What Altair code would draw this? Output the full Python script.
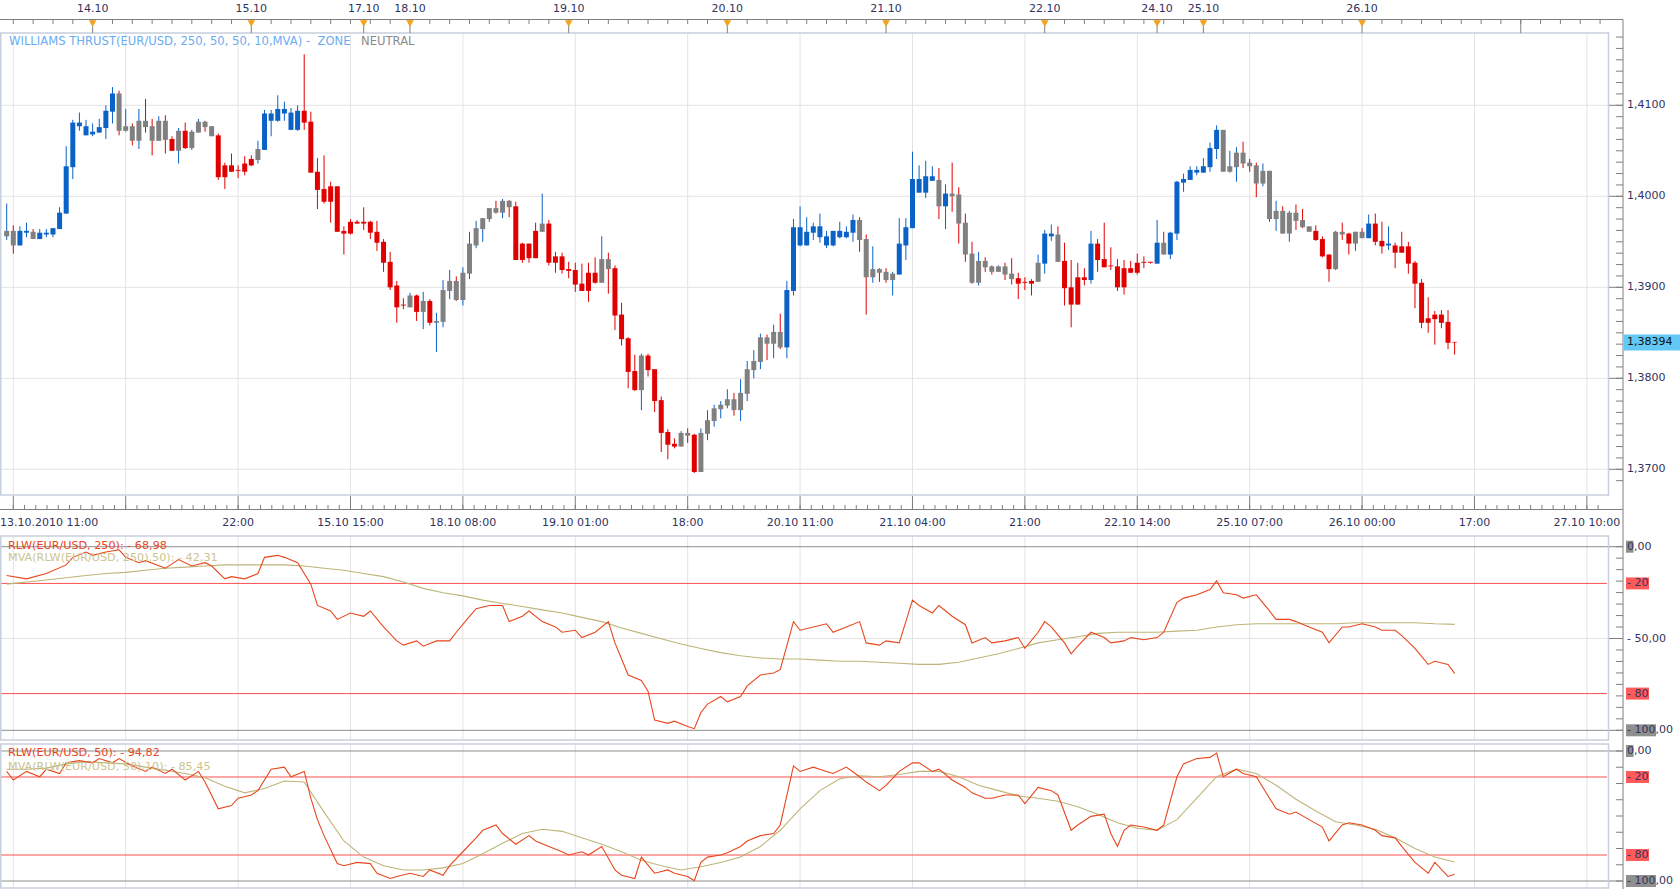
import altair as alt
import numpy as np
import pandas as pd

# ---------------- data: EUR/USD hourly candles (prices in pips = price x 10000) ----------------
high_pips = [
13992,13968,13967,13971,13964,13964,13964,13965,13988,14055,
14084,14092,14084,14080,14085,14100,14120,14116,14096,14080,
14096,14107,14085,14088,14089,14066,14075,14081,14073,14085,
14083,14077,14069,14037,14047,14034,14044,14045,14061,14095,
14095,14111,14104,14097,14100,14156,14093,14042,14045,14016,
14011,13967,13975,13974,13988,13973,13973,13953,13939,13907,
13888,13894,13892,13895,13887,13872,13908,13919,13912,13922,
13961,13973,13976,13987,13995,13997,13996,13994,13949,13948,
13971,14003,13974,13939,13938,13928,13927,13926,13927,13933,
13956,13938,13924,13883,13845,13826,13827,13827,13810,13780,
13744,13734,13742,13745,13739,13745,13765,13771,13775,13788,
13784,13799,13819,13831,13849,13848,13859,13871,13907,13975,
13989,13977,13971,13981,13962,13962,13972,13967,13980,13977,
13958,13945,13921,13921,13917,13976,13976,14049,14034,14039,
14033,14031,14013,14037,14010,13981,13950,13939,13933,13924,
13924,13927,13932,13916,13911,13909,13936,13963,13969,13967,
13949,13930,13927,13921,13962,13953,13971,13944,13931,13930,
13929,13937,13934,13928,13974,13961,13961,14017,14025,14033,
14033,14042,14059,14078,14073,14050,14054,14060,14041,14037,
14036,14028,13995,13989,13984,13991,13986,13967,13968,13956,
13936,13962,13971,13960,13961,13965,13980,13981,13972,13967,
13949,13961,13950,13929,13909,13889,13874,13875,13875,13840]
body_hi_pips = [
13962,13962,13962,13962,13961,13960,13960,13965,13982,14033,
14081,14081,14077,14071,14076,14094,14113,14113,14077,14077,
14083,14083,14077,14083,14083,14063,14072,14072,14071,14082,
14082,14077,14067,14034,14034,14029,14036,14041,14052,14091,
14091,14096,14096,14092,14094,14094,14082,14027,14008,14011,
14011,13962,13972,13972,13972,13972,13961,13950,13928,13902,
13881,13891,13891,13885,13885,13863,13897,13907,13907,13916,
13948,13965,13976,13987,13987,13995,13995,13989,13948,13948,
13962,13970,13970,13934,13934,13920,13919,13904,13916,13916,
13931,13931,13921,13870,13844,13808,13825,13825,13810,13776,
13741,13728,13740,13740,13738,13740,13754,13767,13771,13777,
13777,13784,13810,13819,13845,13845,13851,13851,13897,13966,
13966,13961,13967,13967,13956,13962,13962,13961,13974,13974,
13953,13920,13920,13917,13915,13948,13966,14019,14019,14022,
14022,14018,14003,14003,14002,13971,13937,13929,13929,13923,
13923,13923,13915,13910,13906,13907,13927,13959,13959,13958,
13929,13900,13911,13911,13948,13948,13931,13924,13923,13921,
13921,13927,13928,13928,13949,13949,13960,14016,14019,14029,
14029,14033,14053,14073,14073,14033,14048,14048,14037,14034,
14028,14028,13984,13984,13982,13982,13974,13967,13962,13953,
13936,13961,13961,13959,13961,13961,13970,13970,13951,13948,
13946,13945,13945,13927,13905,13866,13870,13870,13862,13840]
body_lo_pips = [
13956,13946,13946,13960,13953,13953,13958,13958,13964,13981,
14032,14077,14067,14068,14070,14075,14093,14072,14072,14061,
14061,14076,14061,14061,14062,14050,14050,14053,14053,14070,
14076,14066,14021,14021,14027,14028,14027,14034,14040,14051,
14083,14083,14091,14073,14073,14081,14026,14007,13994,13994,
13961,13959,13959,13970,13970,13960,13949,13927,13900,13878,
13880,13878,13873,13873,13861,13861,13862,13896,13886,13886,
13915,13946,13964,13975,13982,13982,13988,13930,13930,13932,
13932,13961,13927,13927,13919,13918,13903,13896,13896,13905,
13905,13920,13869,13843,13807,13787,13787,13809,13775,13740,
13727,13725,13725,13737,13697,13697,13739,13753,13766,13770,
13765,13765,13783,13809,13818,13838,13838,13834,13834,13896,
13946,13946,13960,13955,13946,13946,13955,13955,13960,13952,
13911,13911,13916,13908,13908,13914,13946,13965,14004,14004,
14017,13989,13989,14000,13970,13936,13905,13905,13922,13917,
13917,13914,13909,13904,13905,13904,13906,13926,13956,13928,
13899,13881,13881,13908,13908,13930,13922,13923,13900,13900,
13916,13916,13927,13927,13926,13936,13936,13959,14015,14018,
14026,14026,14032,14052,14027,14027,14032,14036,14033,14014,
14014,13975,13975,13959,13959,13973,13966,13961,13952,13934,
13920,13920,13958,13948,13948,13954,13954,13950,13945,13946,
13938,13938,13926,13904,13861,13861,13865,13861,13839,13839.4]
low_pips = [
13952,13937,13946,13955,13953,13953,13955,13955,13964,13981,
14019,14072,14067,14066,14070,14063,14080,14067,14071,14056,
14052,14070,14045,14061,14047,14050,14036,14052,14051,14070,
14071,14066,14018,14008,14027,14020,14023,14033,14036,14051,
14066,14082,14083,14073,14072,14073,14026,13986,13992,13971,
13961,13936,13958,13970,13963,13953,13940,13917,13897,13861,
13876,13878,13863,13854,13858,13829,13856,13887,13885,13880,
13909,13943,13950,13972,13981,13976,13977,13930,13927,13927,
13932,13961,13924,13916,13915,13910,13895,13896,13884,13904,
13905,13893,13853,13836,13789,13786,13765,13802,13763,13719,
13711,13723,13725,13729,13696,13697,13732,13747,13756,13767,
13759,13753,13775,13800,13810,13820,13822,13832,13822,13891,
13945,13946,13952,13949,13943,13945,13954,13954,13950,13939,
13870,13905,13906,13905,13891,13914,13930,13965,14004,13998,
14017,13975,13964,13983,13948,13928,13904,13902,13917,13914,
13917,13908,13903,13887,13897,13891,13906,13915,13951,13928,
13880,13856,13881,13902,13904,13917,13922,13919,13896,13892,
13916,13914,13921,13926,13926,13936,13931,13952,14005,14018,
14023,14026,14027,14041,14027,14026,14016,14031,14027,13999,
14011,13972,13962,13959,13950,13963,13965,13961,13951,13933,
13906,13919,13952,13936,13940,13954,13954,13946,13937,13941,
13921,13938,13915,13877,13855,13850,13837,13855,13832,13826]
# Williams thrust zone of each candle body / wick: b = up, r = down, g = neutral
body_zone = ("ggbbgbbbbb" "bbbbbbbggg" "gggggrgrgg" "ggrrrrrrgb" "bbbbbrrrrr" "rrrrrrrrrr"
             "rgrgrggggg" "gggggggrrr" "rgrrrrrrrr" "ggrrrrgrrr" "rrggrggggg" "ggggggggbb"
             "bbbbbbbbbg" "gggggbbbbb" "bgbggggggg" "gggrrrgbbg" "rrrrbrrrrr" "rrrrbgbbbb"
             "bbbbgggggg" "ggggggggrr" "rggrggbrrb" "rrrrrrrrrr")
wick_zone = ("brbbrbbbbb" "bbbbbbbrbr" "brrbrrbrbb" "rgrrrrrrbb" "bbbbbrrrrr" "rrrrrrrrrr"
             "rbrbrbbbrb" "bbbbrbrrrr" "rbrrrrrrrr" "brrrrrbrrr" "rrbrrbbbbb" "rbbbbrbrbb"
             "bbbbbbbbbr" "rbrrbbbbbb" "brbrrrrbrr" "brrrrrbbbr" "rrrrbrrrrr" "rrrrbrbbbb"
             "bbbbgbbrrr" "brbrbrrgrr" "rbrrbrbrrb" "rrrrrrrrrr")

# ---------------- indicators ----------------
rlw250_bar = [0,3,6,9,10,12,13,15,17,18,20,21,24,26,28,30,31,33,34,36,38,39,41,42,44,46,47,49,50,52,
              54,55,57,59,60,62,63,65,67,68,70,71,73,75,76,78,79,81,83,84,86,87,89,91,92,94,96,97,98,100,
              101,103,104,105,106,108,109,111,112,114,116,117,119,120,122,124,125,127,129,130,
              132,133,135,137,138,140,141,143,145,146,148,149,151,153,154,156,157,158,160,161,
              162,164,166,167,169,170,172,174,175,177,178,180,182,183,184,186,187,189,191,192,
              194,195,197,199,200,202,203,205,207,208,210,211,213,215,216,218,219]
rlw250 = [-15.7,-17.5,-14.6,-9.9,-5.8,-2.9,-4.7,-2.9,-1.7,-5.8,-8.7,-7.6,-11.7,-7,-10.5,-8.7,-10.5,-17.5,-16.3,-17.5,
          -14.6,-5.8,-4.7,-5.8,-8.7,-20.4,-32,-35,-39.6,-36.1,-37.9,-35,-43.7,-51.3,-53.6,-51.3,-54.2,-51.3,-51.3,-46.6,
          -37.9,-33.8,-32,-32,-40.8,-37.9,-35,-40.8,-43.7,-46.6,-45.5,-49.5,-46.6,-40.8,-52.4,-69.9,-72.8,-78.7,-94.4,-96.2,
          -95,-97.9,-99.1,-90.3,-85.7,-81.6,-84.5,-81.6,-75.8,-69.9,-68.8,-67,-40.8,-45.5,-43.7,-42,-46.6,-43.7,-40.8,-52.4,
          -53.6,-51.3,-52.4,-29.1,-32,-36.1,-32,-37.9,-42.5,-52.4,-49.5,-52.4,-51.3,-49.5,-55.4,-46.6,-40.8,-43.7,-52.4,-58.3,
          -54.2,-46.6,-49.5,-52.4,-51.3,-49.5,-50.7,-49.5,-46.6,-30.3,-28,-26.2,-23.3,-18.6,-25.1,-26.2,-28,-26.2,-35,-39.6,
          -39.6,-40.8,-43.7,-46.6,-52.4,-43.7,-43.7,-42,-43.7,-45.5,-45.5,-48.4,-55.4,-64.1,-62.4,-64.1,-68.98]
rlw50_bar = [0,1,3,5,6,8,9,11,13,14,16,17,19,21,22,24,25,27,29,30,32,34,35,37,38,40,42,43,45,46,
             47,48,50,51,53,55,56,58,59,61,63,64,66,67,69,71,72,74,75,77,79,80,82,84,85,87,88,90,92,93,
             95,96,98,100,101,103,104,105,106,108,109,111,112,114,116,117,119,120,122,124,
             125,127,129,130,132,133,135,137,138,140,141,143,145,146,148,149,151,153,154,156,
             158,159,161,162,164,166,167,168,169,170,172,174,175,177,178,180,182,183,184,186,
             187,189,191,192,194,195,197,199,200,202,203,205,207,208,210,211,213,215,216,218,219]
rlw50 = [-15.7,-22.3,-15.7,-19.8,-14,-17.3,-9.1,-7.4,-9.1,-5.8,-9.1,-5.8,-11.5,-15.7,-12.4,-17.3,-14,-22.3,-15.7,-23.9,
         -44.5,-42,-36.3,-33.8,-30.5,-14,-12.4,-19.8,-15.7,-36.3,-52.8,-65.1,-86.6,-88.2,-85.7,-86.6,-94,-98.1,-96.5,-94,
         -96.5,-91.5,-95.6,-88.2,-77.5,-66.8,-61,-56.9,-63.5,-71.7,-65.1,-69.2,-73.4,-77.5,-80,-77.5,-80,-73.4,-91.5,-95.6,
         -98.1,-81.6,-94,-91.5,-94,-96.5,-99.8,-85.7,-81.6,-80,-78.3,-73.4,-69.2,-65.1,-63.5,-56.9,-11.5,-15.7,-12.4,-15.7,
         -17.3,-12.4,-19.8,-23.9,-30.5,-26.4,-15.7,-9.1,-9.1,-15.7,-14,-22.3,-28,-32.2,-36.3,-36.3,-33.8,-33.8,-40.4,-28,
         -30.5,-33.8,-61,-56.9,-50.3,-48.6,-63.5,-73.4,-61,-56.9,-58.5,-61,-56.9,-19.8,-9.9,-5.8,-4.9,-1.6,-19.8,-14,
         -17.3,-19.8,-36.3,-44.5,-48.6,-47,-52.8,-58.5,-69.2,-56.9,-55.2,-56.9,-61,-65.1,-66.8,-73.4,-85.7,-94,-85.7,-96.5,
         -94.82]
mva_bar = list(range(0, 220, 3))
mva250 = [-20.4,-19.2,-18.1,-16.9,-15.7,-14.6,-14,-12.8,-11.7,-11.1,-10.5,-9.9,-9.9,-9.9,-9.9,-10.5,
          -11.7,-12.8,-14.6,-16.3,-19.2,-22.7,-25.1,-26.8,-29.1,-30.9,-32.6,-34.4,-36.1,-38.5,-40.8,
          -44.3,-47.2,-50.1,-53,-55.4,-57.7,-59.4,-60.6,-61.2,-61.2,-61.8,-62.4,-62.4,-62.9,-63.5,
          -64.1,-64.1,-62.9,-60.6,-58.3,-55.4,-52.4,-50.7,-49,-47.2,-46.6,-46.6,-46.6,-46,-45.5,
          -43.7,-42.5,-42,-42,-42,-42,-42,-41.4,-41.4,-41.4,-41.4,-42,-42.31]
mva50 = [-14,-14,-13.2,-9.9,-8.2,-9.1,-9.9,-12.4,-14.8,-17.3,-20.6,-27.2,-32.2,-28.9,-23.1,-23.9,
         -47,-69.2,-81.6,-88.2,-91.5,-91.5,-89.9,-86.6,-79.1,-70.9,-63.5,-60.2,-61.8,-66.8,-71.7,
         -77.5,-84.1,-88.2,-91.5,-89,-85.7,-81.6,-73.4,-61,-44.5,-30.5,-21.4,-19,-19.8,-18.1,-15.7,
         -15.7,-19.8,-26.4,-30.5,-34.6,-36.3,-38.7,-42.9,-48.6,-55.2,-59.4,-61,-52.8,-36.3,-19.8,
         -14,-17.3,-26.4,-37.1,-46.2,-54.4,-56.9,-60.2,-66.8,-75,-81.6,-85.45]

# ---------------- axis labels ----------------
day_labels = ["14.10", "15.10", "17.10", "18.10", "19.10", "20.10", "21.10", "22.10", "24.10", "25.10", "26.10"]
day_bars = [13, 37, 54, 61, 85, 109, 133, 157, 174, 181, 205]
first_time_label = "13.10.2010 11:00"
time_labels = ["22:00", "15.10 15:00", "18.10 08:00", "19.10 01:00", "18:00", "20.10 11:00",
               "21.10 04:00", "21:00", "22.10 14:00", "25.10 07:00", "26.10 00:00", "17:00", "27.10 10:00"]
time_bars = [35, 52, 69, 86, 103, 120, 137, 154, 171, 188, 205, 222, 239]
grid_bars = [1, 18, 35, 52, 69, 86, 103, 120, 137, 154, 171, 188, 205, 222, 239]
price_ticks = [1.37, 1.38, 1.39, 1.40, 1.41]
price_labels = ["1,3700", "1,3800", "1,3900", "1,4000", "1,4100"]
last_price = 1.38394
last_price_label = "1,38394"
header_text = "WILLIAMS THRUST(EUR/USD, 250, 50, 50, 10,MVA) -\u00a0 ZONE"
header_zone = "NEUTRAL"
p2_title1 = "RLW(EUR/USD, 250): - 68,98"
p2_title2 = "MVA(RLW(EUR/USD, 250),50): - 42,31"
p3_title1 = "RLW(EUR/USD, 50): - 94,82"
p3_title2 = "MVA(RLW(EUR/USD, 50),10): - 85,45"

# ---------------- styling ----------------
ZONE_COL = {"b": "#0a61c6", "r": "#e00000", "g": "#808080"}
TXT = "#33335e"
FONT = "DejaVu Sans"
GRID = "#e3e3e3"
FRAME = "#c6d0dd"
AXISC = "#7f7f7f"
RED_LINE = "#ff5050"
RLW_C = "#e8461c"
MVA_C = "#bdb578"

X = alt.Scale(domain=[-0.2555, 241.44], nice=False, zero=False)
YM = alt.Scale(domain=[1.367176, 1.417945], range=[495, 33], nice=False, zero=False)
Y2 = alt.Scale(domain=[-105.28, 5.83], range=[740, 536], nice=False, zero=False)
Y3 = alt.Scale(domain=[-105.38, 5.38], range=[888, 744], nice=False, zero=False)


def xb(field="bar"):
    return alt.X(f"{field}:Q", scale=X, axis=None)


def yq(field, scale):
    return alt.Y(f"{field}:Q", scale=scale, axis=None)


one = pd.DataFrame({"k": [0]})
layers = []

# vertical grid lines in the three panels
gdf = pd.DataFrame({"bar": grid_bars})
for t, b in [(33, 495), (536, 740), (744, 888)]:
    layers.append(alt.Chart(gdf).mark_rule(color=GRID, strokeWidth=1).encode(
        x=xb(), y=alt.value(t), y2=alt.value(b)))

# main horizontal grid
pdf = pd.DataFrame({"p": price_ticks, "lab": price_labels})
layers.append(alt.Chart(pdf).mark_rule(color=GRID, strokeWidth=1).encode(
    y=yq("p", YM), x=alt.value(0), x2=alt.value(1608)))

# indicator panel level lines
for scale, levels_grey, levels_red, levels_grid in [
        (Y2, [0, -100], [-20, -80], [-50]),
        (Y3, [0, -100], [-20, -80], [])]:
    if levels_grid:
        layers.append(alt.Chart(pd.DataFrame({"v": levels_grid})).mark_rule(color=GRID).encode(
            y=yq("v", scale), x=alt.value(0), x2=alt.value(1608)))
    layers.append(alt.Chart(pd.DataFrame({"v": levels_grey})).mark_rule(color="#8e8e8e").encode(
        y=yq("v", scale), x=alt.value(0), x2=alt.value(1609)))
    layers.append(alt.Chart(pd.DataFrame({"v": levels_red})).mark_rule(color=RED_LINE).encode(
        y=yq("v", scale), x=alt.value(0), x2=alt.value(1607)))

# panel frames
for t, b in [(33, 495), (536, 740), (744, 888)]:
    layers.append(alt.Chart(one).mark_rect(fillOpacity=0, stroke=FRAME, strokeWidth=1.5).encode(
        x=alt.value(0.75), x2=alt.value(1608.5), y=alt.value(t), y2=alt.value(b)))

# candles
cdf = pd.DataFrame({
    "bar": np.arange(len(high_pips)),
    "high": np.array(high_pips) / 1e4,
    "low": np.array(low_pips) / 1e4,
    "bhi": np.array(body_hi_pips) / 1e4,
    "blo": np.array(body_lo_pips) / 1e4,
    "bcol": [ZONE_COL[c] for c in body_zone],
    "wcol": [ZONE_COL[c] for c in wick_zone],
})
layers.append(alt.Chart(cdf).mark_rule(strokeWidth=1).encode(
    x=xb(), y=yq("low", YM), y2=alt.Y2("high:Q"), color=alt.Color("wcol:N", scale=None)))
layers.append(alt.Chart(cdf).mark_bar(size=5).encode(
    x=xb(), y=yq("blo", YM), y2=alt.Y2("bhi:Q"), color=alt.Color("bcol:N", scale=None)))

# indicator lines
mdf = pd.DataFrame({"bar": mva_bar, "mva250": mva250, "mva50": mva50})
r250 = pd.DataFrame({"bar": rlw250_bar, "v": rlw250})
r50 = pd.DataFrame({"bar": rlw50_bar, "v": rlw50})
layers.append(alt.Chart(mdf).mark_line(color=MVA_C, strokeWidth=1.1).encode(x=xb(), y=yq("mva250", Y2)))
layers.append(alt.Chart(r250).mark_line(color=RLW_C, strokeWidth=1.1).encode(x=xb(), y=yq("v", Y2)))
layers.append(alt.Chart(mdf).mark_line(color=MVA_C, strokeWidth=1.1).encode(x=xb(), y=yq("mva50", Y3)))
layers.append(alt.Chart(r50).mark_line(color=RLW_C, strokeWidth=1.1).encode(x=xb(), y=yq("v", Y3)))

# ---- top time axis ----
layers.append(alt.Chart(one).mark_rule(color=AXISC).encode(
    x=alt.value(0), x2=alt.value(1623), y=alt.value(19.5)))
top_ticks = pd.DataFrame({"bar": np.arange(1, 242, 3)})
layers.append(alt.Chart(top_ticks).mark_rule(color=AXISC).encode(
    x=xb(), y=alt.value(20), y2=alt.value(24)))
ddf = pd.DataFrame({"bar": day_bars, "lab": day_labels})
day_ticks = pd.DataFrame({"bar": day_bars + [229]})
layers.append(alt.Chart(day_ticks).mark_rule(color=AXISC).encode(
    x=xb(), y=alt.value(20), y2=alt.value(33)))
layers.append(alt.Chart(ddf).mark_point(shape="triangle-down", filled=True, size=60, opacity=1,
                                        color="#f5a21c").encode(x=xb(), y=alt.value(23.5)))
layers.append(alt.Chart(ddf).mark_text(font=FONT, fontSize=11, color=TXT, align="center",
                                       baseline="middle").encode(x=xb(), y=alt.value(9), text="lab:N"))

# ---- bottom time axis of the price panel ----
layers.append(alt.Chart(one).mark_rule(color=AXISC).encode(
    x=alt.value(0), x2=alt.value(1623), y=alt.value(509.5)))
minor_bottom = pd.DataFrame({"bar": np.arange(1, 242, 1.7)})
layers.append(alt.Chart(minor_bottom).mark_rule(color=AXISC).encode(
    x=xb(), y=alt.value(505), y2=alt.value(509.5)))
layers.append(alt.Chart(gdf).mark_rule(color=AXISC).encode(
    x=xb(), y=alt.value(496), y2=alt.value(509.5)))
tdf = pd.DataFrame({"bar": time_bars, "lab": time_labels})
layers.append(alt.Chart(tdf).mark_text(font=FONT, fontSize=11, color=TXT, align="center",
                                       baseline="middle").encode(x=xb(), y=alt.value(523), text="lab:N"))
layers.append(alt.Chart(pd.DataFrame({"lab": [first_time_label]})).mark_text(
    font=FONT, fontSize=11, color=TXT, align="left", baseline="middle").encode(
    x=alt.value(0), y=alt.value(523), text="lab:N"))

# ---- right axes ----
layers.append(alt.Chart(one).mark_rule(color=AXISC).encode(
    x=alt.value(1623), y=alt.value(19.5), y2=alt.value(889)))
# price axis
layers.append(alt.Chart(pd.DataFrame({"p": np.arange(1.36875, 1.4180, 0.00125)})).mark_rule(color=AXISC).encode(
    y=yq("p", YM), x=alt.value(1616), x2=alt.value(1623)))
layers.append(alt.Chart(pdf).mark_rule(color=AXISC).encode(
    y=yq("p", YM), x=alt.value(1609), x2=alt.value(1623)))
layers.append(alt.Chart(pdf).mark_text(font=FONT, fontSize=11, color=TXT, align="left",
                                       baseline="middle").encode(y=yq("p", YM), x=alt.value(1627), text="lab:N"))
lp = pd.DataFrame({"p": [last_price], "lab": [last_price_label]})
layers.append(alt.Chart(lp).mark_tick(orient="horizontal", size=56, thickness=16, opacity=1,
                                      color="#62c8f4").encode(y=yq("p", YM), x=alt.value(1652)))
layers.append(alt.Chart(lp).mark_text(font=FONT, fontSize=11, color="#111111", align="left",
                                      baseline="middle").encode(y=yq("p", YM), x=alt.value(1627), text="lab:N"))

# indicator axes
for scale, minor_step, majors, labels in [
        (Y2, 6.25, [0, -50, -100], [(0, "0,00", "g", 7.5), (-20, "- 20", "r", 23), (-50, "- 50,00", "", 0),
                                    (-80, "- 80", "r", 23), (-100, "- 100,00", "g", 30)]),
        (Y3, 12.5, [0, -100], [(0, "0,00", "g", 7.5), (-20, "- 20", "r", 23),
                               (-80, "- 80", "r", 23), (-100, "- 100,00", "g", 30)])]:
    layers.append(alt.Chart(pd.DataFrame({"v": np.arange(0, -100.1, -minor_step)})).mark_rule(color=AXISC).encode(
        y=yq("v", scale), x=alt.value(1616), x2=alt.value(1623)))
    layers.append(alt.Chart(pd.DataFrame({"v": majors})).mark_rule(color=AXISC).encode(
        y=yq("v", scale), x=alt.value(1609), x2=alt.value(1623)))
    for v, lab, box, bw in labels:
        d = pd.DataFrame({"v": [v], "lab": [lab]})
        if box:
            layers.append(alt.Chart(d).mark_tick(orient="horizontal", size=bw, thickness=12, opacity=1,
                                                 color="#8f8f8f" if box == "g" else "#ff5a5a").encode(
                y=yq("v", scale), x=alt.value(1626 + bw / 2)))
        layers.append(alt.Chart(d).mark_text(font=FONT, fontSize=11, color=TXT, align="left",
                                             baseline="middle").encode(y=yq("v", scale), x=alt.value(1627), text="lab:N"))


# ---- titles inside panels ----
def label(txt, x, y, col, size=11):
    return alt.Chart(pd.DataFrame({"lab": [txt]})).mark_text(
        font=FONT, fontSize=size, color=col, align="left", baseline="middle").encode(
        x=alt.value(x), y=alt.value(y), text="lab:N")


layers.append(label(header_text, 9, 42, "#6aacf2", 11.6))
layers.append(label(header_zone, 361, 42, "#8a8a8a", 11.6))
layers.append(label(p2_title1, 8, 546, RLW_C, 11.2))
layers.append(label(p2_title2, 8, 558, "#ccc48e", 11.2))
layers.append(label(p3_title1, 8, 753, RLW_C, 11.2))
layers.append(label(p3_title2, 8, 767, "#ccc48e", 11.2))

chart = alt.layer(*layers).resolve_scale(y="independent").properties(
    width=1608, height=889,
    padding={"left": 0, "top": 0, "right": 72, "bottom": 0},
    autosize=alt.AutoSizeParams(type="none"),
    background="white",
).configure_view(stroke=None)

chart.save("out.html", embed_options={"renderer": "svg", "actions": False})
